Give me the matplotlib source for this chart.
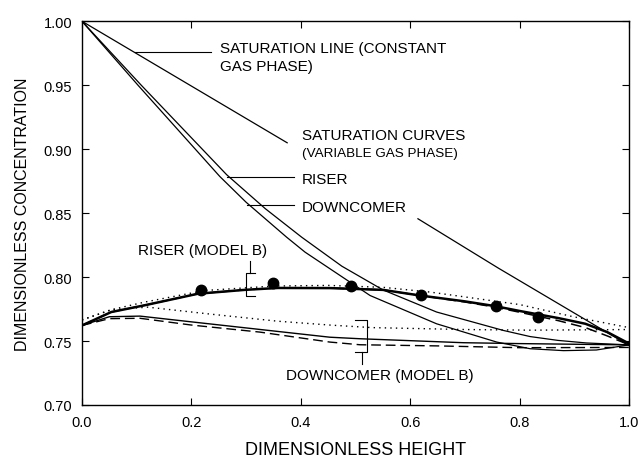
import numpy as np
import matplotlib
matplotlib.use("Agg")
import matplotlib.pyplot as plt

plt.rcParams['font.family'] = ['Liberation Sans', 'DejaVu Sans']

nan = np.nan

# saturation line (constant gas phase), hidden behind the labels in the middle
satl_x = [0.0, 0.375, nan, 0.614, 0.761, 1.0]
satl_y = [1.0, 0.905, nan, 0.8456, 0.807, 0.7465]

# saturation curves (variable gas phase)
satr_x = [0.0, 0.109, 0.2645, 0.335, 0.4015, 0.475, 0.55, 0.648, 0.770, 0.819, 0.87, 0.922, 1.0]
satr_y = [1.0, 0.9497, 0.880, 0.8535, 0.8312, 0.8085, 0.790, 0.7727, 0.7583, 0.7535, 0.7505, 0.7485, 0.747]

satd_x = [0.0, 0.103, 0.252, 0.30, 0.374, 0.4077, 0.5265, 0.648, 0.758, 0.819, 0.88, 0.94, 1.0]
satd_y = [1.0, 0.9497, 0.8786, 0.8585, 0.8312, 0.8195, 0.7856, 0.7635, 0.7492, 0.744, 0.7425, 0.743, 0.747]

# riser, model B
rb_x = [0.0, 0.0536, 0.115, 0.212, 0.297, 0.358, 0.453, 0.55, 0.618, 0.70, 0.755, 0.80, 0.87, 0.92, 0.96, 1.0]
rb_y = [0.7622, 0.7727, 0.778, 0.787, 0.790, 0.7915, 0.7914, 0.790, 0.7856, 0.781, 0.7773, 0.7735, 0.768, 0.7635, 0.757, 0.748]
rbd_y = [0.7622, 0.7727, 0.778, 0.787, 0.790, 0.7915, 0.7914, 0.790, 0.7856, 0.7805, 0.7765, 0.7725, 0.766, 0.7605, 0.754, 0.747]

# dotted curves
dr_x = [0.0, 0.0536, 0.115, 0.224, 0.35, 0.45, 0.55, 0.636, 0.758, 0.80, 0.898, 1.0]
dr_y = [0.7665, 0.7745, 0.7805, 0.7895, 0.793, 0.7935, 0.792, 0.7883, 0.781, 0.7785, 0.769, 0.7605]

dd_x = [0.0, 0.0536, 0.12, 0.236, 0.358, 0.453, 0.53, 0.70, 0.82, 1.0]
dd_y = [0.7665, 0.7745, 0.7765, 0.771, 0.7655, 0.7625, 0.7605, 0.759, 0.7585, 0.759]

# downcomer, model B
db_x = [0.0, 0.05, 0.106, 0.2, 0.358, 0.453, 0.508, 0.697, 0.80, 0.90, 1.0]
db_y = [0.7622, 0.769, 0.7695, 0.765, 0.7575, 0.753, 0.7518, 0.7487, 0.748, 0.7475, 0.747]

dbd_x = [0.0, 0.05, 0.106, 0.2, 0.325, 0.453, 0.508, 0.65, 0.80, 1.0]
dbd_y = [0.7622, 0.7675, 0.7678, 0.7625, 0.757, 0.7492, 0.7471, 0.7462, 0.7448, 0.745]

# experimental points
pts_x = [0.217, 0.350, 0.492, 0.620, 0.756, 0.834]
pts_y = [0.790, 0.7953, 0.7932, 0.7862, 0.7773, 0.7688]

xticks = [0.0, 0.2, 0.4, 0.6, 0.8, 1.0]
yticks = [0.70, 0.75, 0.80, 0.85, 0.90, 0.95, 1.00]

fig = plt.figure(figsize=(6.42, 4.64), dpi=100)
ax = fig.add_axes([0.1277, 0.125, 0.8523, 0.827])

k = 'black'
ax.plot(satl_x, satl_y, color=k, lw=0.9)
ax.plot(satr_x, satr_y, color=k, lw=0.9)
ax.plot(satd_x, satd_y, color=k, lw=0.9)

ax.plot(dr_x, dr_y, color=k, lw=1.0, dashes=(1, 3))
ax.plot(dd_x, dd_y, color=k, lw=1.0, dashes=(1, 3))

ax.plot(rb_x, rbd_y, color=k, lw=1.1, dashes=(7, 3.5))
ax.plot(rb_x, rb_y, color=k, lw=1.8)

ax.plot(db_x, db_y, color=k, lw=1.0)
ax.plot(dbd_x, dbd_y, color=k, lw=1.0, dashes=(7, 3.5))

ax.plot(pts_x, pts_y, 'o', color=k, ms=7.5)

# labels and leader lines
fs = 11
ax.plot([0.096, 0.236], [0.9763, 0.9763], color=k, lw=0.8)
ax.text(0.2523, 0.9791, 'SATURATION LINE (CONSTANT', fontsize=fs, va='center')
ax.text(0.2523, 0.9653, 'GAS PHASE)', fontsize=fs, va='center')

ax.text(0.4017, 0.9114, 'SATURATION CURVES', fontsize=fs, va='center')
ax.text(0.4017, 0.8971, '(VARIABLE GAS PHASE)', fontsize=9.7, va='center')
ax.plot([0.2645, 0.388], [0.8781, 0.8781], color=k, lw=0.8)
ax.text(0.4017, 0.8768, 'RISER', fontsize=fs, va='center')
ax.plot([0.301, 0.388], [0.856, 0.856], color=k, lw=0.8)
ax.text(0.4017, 0.8547, 'DOWNCOMER', fontsize=fs, va='center')

ax.text(0.22, 0.8208, 'RISER (MODEL B)', fontsize=fs, ha='center', va='center')
ax.plot([0.307, 0.307], [0.8122, 0.8034], color=k, lw=0.8)
ax.plot([0.316, 0.2998, 0.2998, 0.316], [0.8034, 0.8034, 0.7856, 0.7856], color=k, lw=0.8)

ax.text(0.5448, 0.7234, 'DOWNCOMER (MODEL B)', fontsize=fs, ha='center', va='center')
ax.plot([0.499, 0.5204, 0.5204, 0.499], [0.7661, 0.7661, 0.7414, 0.7414], color=k, lw=0.8)
ax.plot([0.5113, 0.5113], [0.7414, 0.7323], color=k, lw=0.8)

ax.set_xlim(0, 1.0)
ax.set_ylim(0.70, 1.00)
ax.set_xticks(xticks)
ax.set_xticklabels(['%.1f' % v for v in xticks])
ax.set_yticks(yticks)
ax.set_yticklabels(['%.2f' % v for v in yticks])
ax.tick_params(direction='in', length=5, width=0.8, labelsize=10.5, pad=7,
               top=True, right=True)
for s in ax.spines.values():
    s.set_linewidth(1.0)

ax.set_xlabel('DIMENSIONLESS HEIGHT', fontsize=13, labelpad=9)
ax.set_ylabel('DIMENSIONLESS CONCENTRATION', fontsize=11.5, labelpad=10)

fig.savefig('out.png', dpi=100)
